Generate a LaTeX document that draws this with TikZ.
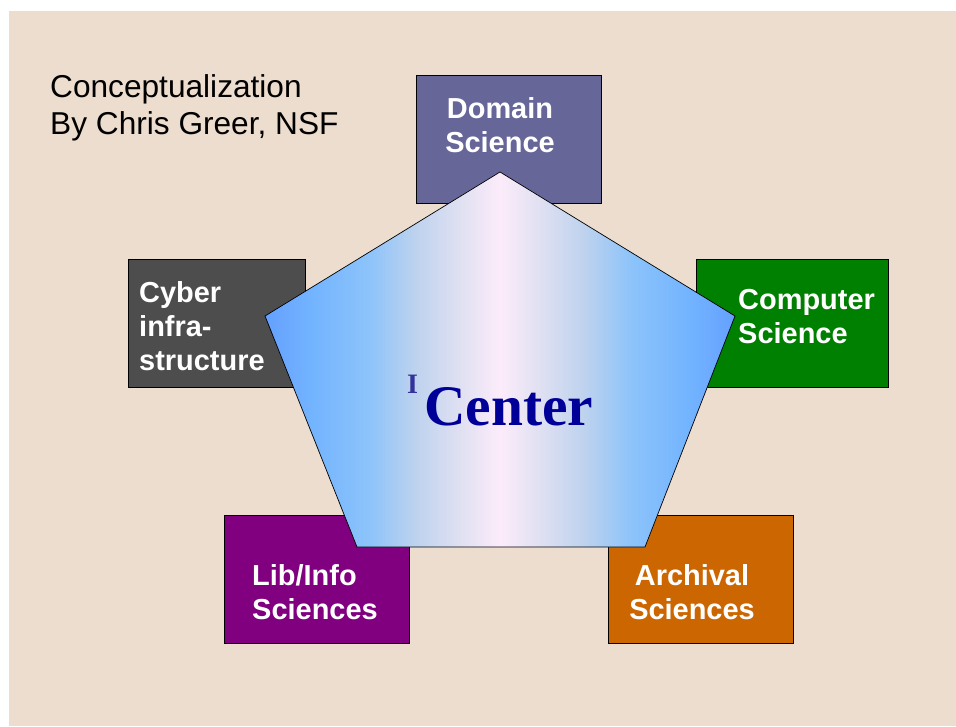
\documentclass[tikz,border=0pt]{standalone}
\usepackage{fontspec}
\setmainfont{Liberation Sans}
\newfontfamily\timesfont{Liberation Serif}
\definecolor{pagebg}{RGB}{237,221,206}
\definecolor{domaincol}{RGB}{102,102,153}
\definecolor{cybercol}{RGB}{77,77,77}
\definecolor{compcol}{RGB}{0,128,0}
\definecolor{libcol}{RGB}{128,0,128}
\definecolor{archcol}{RGB}{204,102,0}
\definecolor{centercol}{RGB}{0,0,153}
\definecolor{supcol}{RGB}{51,51,153}
% path box goes from 25bp to 75bp
\pgfdeclarehorizontalshading{pentshade}{100bp}{%
  color(0bp)=(rgb,255:red,100;green,160;blue,255);
  color(25bp)=(rgb,255:red,100;green,160;blue,255);
  color(30bp)=(rgb,255:red,115;green,180;blue,255);
  color(36bp)=(rgb,255:red,140;green,195;blue,250);
  color(41bp)=(rgb,255:red,190;green,210;blue,238);
  color(46bp)=(rgb,255:red,225;green,225;blue,242);
  color(50bp)=(rgb,255:red,252;green,236;blue,250);
  color(54bp)=(rgb,255:red,225;green,225;blue,242);
  color(59bp)=(rgb,255:red,190;green,210;blue,238);
  color(64bp)=(rgb,255:red,140;green,195;blue,250);
  color(70bp)=(rgb,255:red,115;green,180;blue,255);
  color(75bp)=(rgb,255:red,100;green,160;blue,255);
  color(100bp)=(rgb,255:red,100;green,160;blue,255)}

\begin{document}
\begin{tikzpicture}[x=0.03cm,y=-0.03cm,
  box/.style={draw=black, line width=0.6pt, minimum height=3.84cm, inner sep=0pt},
  boxtext/.style={text=white, font=\bfseries\fontsize{24.7}{28.9}\selectfont,
    inner sep=0pt, anchor=base west, align=left}]
   \useasboundingbox (0,0) rectangle (956,726);
   \fill[white] (0,0) rectangle (956,726);
   \fill[pagebg] (9,11) rectangle (956,726);

   % the five fields
   \node[box, fill=domaincol, minimum width=5.55cm] (domain) at (508.5,139) {};
   \node[box, fill=cybercol, minimum width=5.31cm]  (cyber)  at (216.5,323) {};
   \node[box, fill=compcol, minimum width=5.76cm]   (comp)   at (792,323)   {};
   \node[box, fill=libcol, minimum width=5.55cm]    (lib)    at (316.5,579) {};
   \node[box, fill=archcol, minimum width=5.55cm]   (arch)   at (700.5,579) {};

   % (base = last line)
   \node[boxtext, align=center, anchor=base] (domaintext) at (500,152) {Domain\\Science};
   \node[boxtext] (cybertext) at (139,370) {Cyber\\infra-\\structure};
   \node[boxtext] (comptext)  at (738,343) {Computer\\Science};
   \node[boxtext] (libtext)   at (252,619) {Lib/Info\\Sciences};
   \node[boxtext, align=center, anchor=base] (archtext) at (692,619) {Archival\\Sciences};

   % pentagon
   \coordinate (ptop) at (500,172);
   \coordinate (pright) at (735,316);
   \coordinate (pbr) at (645,547);
   \coordinate (pbl) at (357,547);
   \coordinate (pleft) at (265,316);
   \draw[black, line width=0.6pt, shading=pentshade]
      (ptop) -- (pright) -- (pbr) -- (pbl) -- (pleft) -- cycle;

   \node[anchor=base west, inner sep=0pt, text=centercol,
     font=\timesfont\bfseries\fontsize{49}{50}\selectfont] (center) at (424,425) {Center};
   \node[anchor=base west, inner sep=0pt, text=supcol,
     font=\timesfont\bfseries\fontsize{24}{26}\selectfont] (centeri) at (407,393) {I};

   \node[anchor=base west, inner sep=0pt, align=left,
     font=\fontsize{27}{31.5}\selectfont] (title) at (50,134) {Conceptualization\\By Chris Greer, NSF};
\end{tikzpicture}
\end{document}
